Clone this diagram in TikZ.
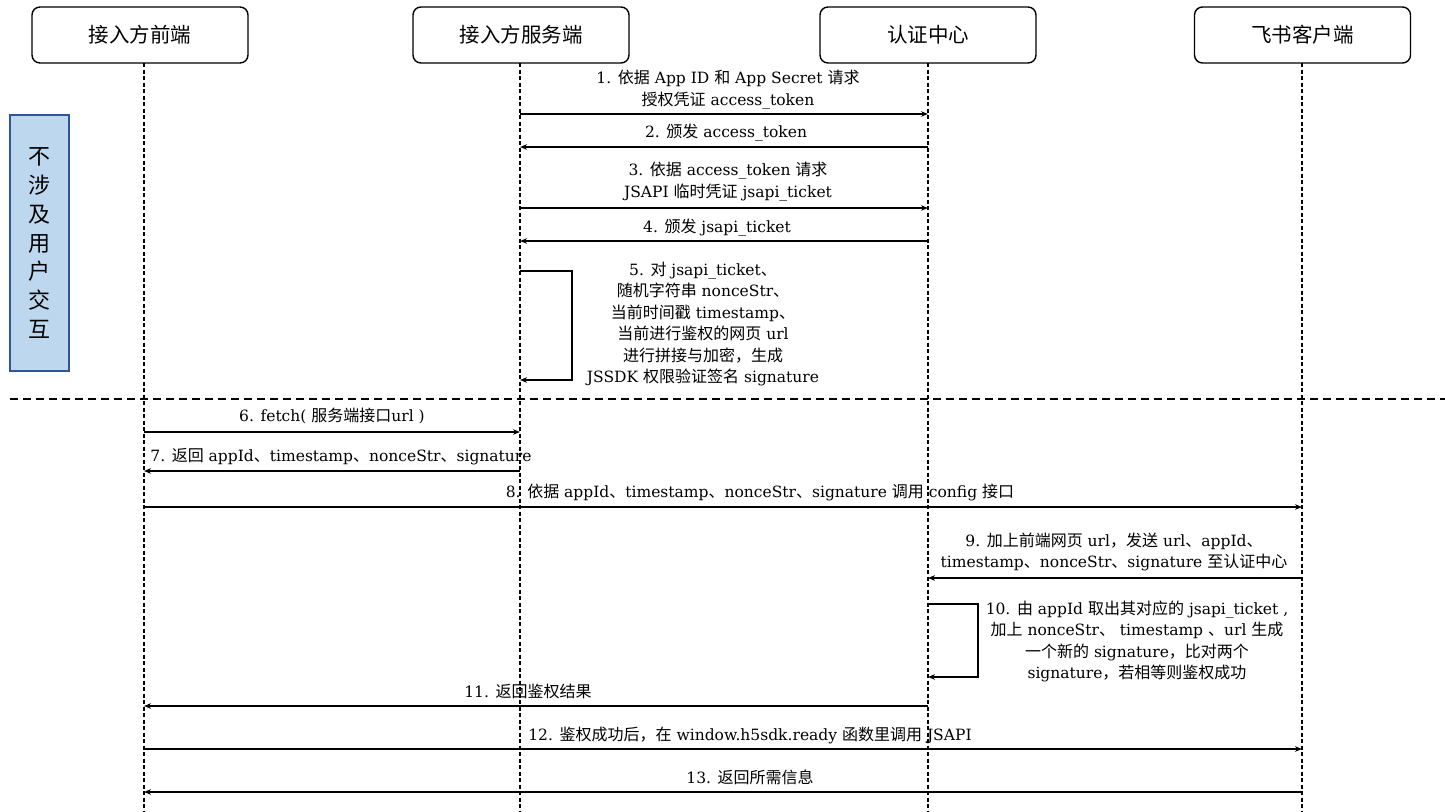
\documentclass[tikz,border=0pt]{standalone}
\usepackage{fontspec}
\setmainfont{DejaVu Serif}[Scale=0.97]
\newfontfamily\cjkfont{Noto Sans CJK SC}
\newfontfamily\latfont{DejaVu Serif}[Scale=0.97]
% switch to the CJK font for Chinese characters
\XeTeXinterchartokenstate=1
\newXeTeXintercharclass\cjkcls
\newcount\cjkcnt
\def\cjkrange#1#2{\cjkcnt=#1
  \loop\XeTeXcharclass\cjkcnt=\cjkcls\advance\cjkcnt by 1
  \ifnum\cjkcnt<#2\repeat}
\cjkrange{"3000}{"3040}
\cjkrange{"4E00}{"A000}
\cjkrange{"FF00}{"FFF0}
\XeTeXinterchartoks 0 \cjkcls = {\cjkfont}
\XeTeXinterchartoks 4095 \cjkcls = {\cjkfont}
\XeTeXinterchartoks \cjkcls 0 = {\latfont}
\XeTeXinterchartoks \cjkcls 4095 = {\latfont}
\usetikzlibrary{arrows.meta}
\definecolor{notefill}{HTML}{BDD7EE}
\definecolor{noteline}{HTML}{2F5597}
\tikzset{
  head/.style={draw,rounded corners=8pt,line width=1.4pt,minimum width=216pt,
    minimum height=56pt,font=\fontsize{20.5}{24}\selectfont},
  life/.style={line width=1.2pt,dash pattern=on 4pt off 2.5pt},
  msg/.style={->,line width=1.4pt},
  lbl/.style={align=center,inner sep=0pt,yshift=-1.5pt,font=\fontsize{16}{21.5}\selectfont},
}
\begin{document}
\begin{tikzpicture}[>={Stealth[length=7pt,width=5.5pt]},x=1pt,y=-1pt]
    \useasboundingbox (0,0) rectangle (1445,811);
    % draw the participants and their lifelines
    \foreach \n/\x/\lx/\t in {fe/140/144/接入方前端,srv/521/520/接入方服务端,
        auth/928/928/认证中心,fs/1302.5/1302/飞书客户端}
    {
        \node[head] (\n) at (\x,35) {\t};
        \coordinate (\n-top) at (\lx,63);
        \coordinate (\n-end) at (\lx,811);
        \draw[life] (\n-top) -- (\n-end);
    }
    % note and separator
    \node[draw=noteline,fill=notefill,line width=1.4pt,minimum width=59pt,minimum height=256pt,
        align=center,inner sep=0pt,font=\fontsize{22}{28.7}\selectfont] (note) at (39.5,243)
        {不\\涉\\及\\用\\户\\交\\互};
    \coordinate (sepl) at (10,399);
    \coordinate (sepr) at (1445,399);
    \draw[line width=1.4pt,dash pattern=on 8pt off 5pt] (sepl) -- (sepr);
    % draw the messages
    \foreach \a/\b/\y in {srv/auth/114,auth/srv/147,srv/auth/208,auth/srv/241,
        fe/srv/432,srv/fe/471,fe/fs/507,fs/auth/578,auth/fe/706,fe/fs/749,fs/fe/792}
        \draw[msg] (\a-end |- 0,\y) -- (\b-end |- 0,\y);
    \draw[msg] (srv-end |- 0,271) -- ++(52,0) -- ++(0,109) -- (srv-end |- 0,380);
    \draw[msg] (auth-end |- 0,604) -- ++(50,0) -- ++(0,73) -- (auth-end |- 0,677);
    % labels
    \node[lbl] (l1) at (728,88) {1. 依据 App ID 和 App Secret 请求\\授权凭证 access\_token};
    \node[lbl] (l2) at (726,131) {2. 颁发 access\_token};
    \node[lbl] (l3) at (728,180) {3. 依据 access\_token 请求\\JSAPI 临时凭证 jsapi\_ticket};
    \node[lbl] (l4) at (717,226) {4. 颁发 jsapi\_ticket};
    \node[lbl] (l5) at (703,322.5) {5. 对 jsapi\_ticket、\\随机字符串 nonceStr、\\当前时间戳 timestamp、\\
        当前进行鉴权的网页 url\\进行拼接与加密，生成\\JSSDK 权限验证签名 signature};
    \node[lbl] (l6) at (332,414) {6. fetch( 服务端接口url )};
    \node[lbl] (l7) at (341,455) {7. 返回 appId、timestamp、nonceStr、signature};
    \node[lbl] (l8) at (760,491) {8. 依据 appId、timestamp、nonceStr、signature 调用 config 接口};
    \node[lbl] (l9) at (1114,550.5) {9. 加上前端网页 url，发送 url、appId、\\timestamp、nonceStr、signature 至认证中心};
    \node[lbl] (l10) at (1137,640) {10. 由 appId 取出其对应的 jsapi\_ticket ,\\加上 nonceStr、 timestamp 、url 生成\\
        一个新的 signature，比对两个\\signature，若相等则鉴权成功};
    \node[lbl] (l11) at (528,690) {11. 返回鉴权结果};
    \node[lbl] (l12) at (750,734) {12. 鉴权成功后，在 window.h5sdk.ready 函数里调用 JSAPI};
    \node[lbl] (l13) at (750,776) {13. 返回所需信息};
\end{tikzpicture}
\end{document}
